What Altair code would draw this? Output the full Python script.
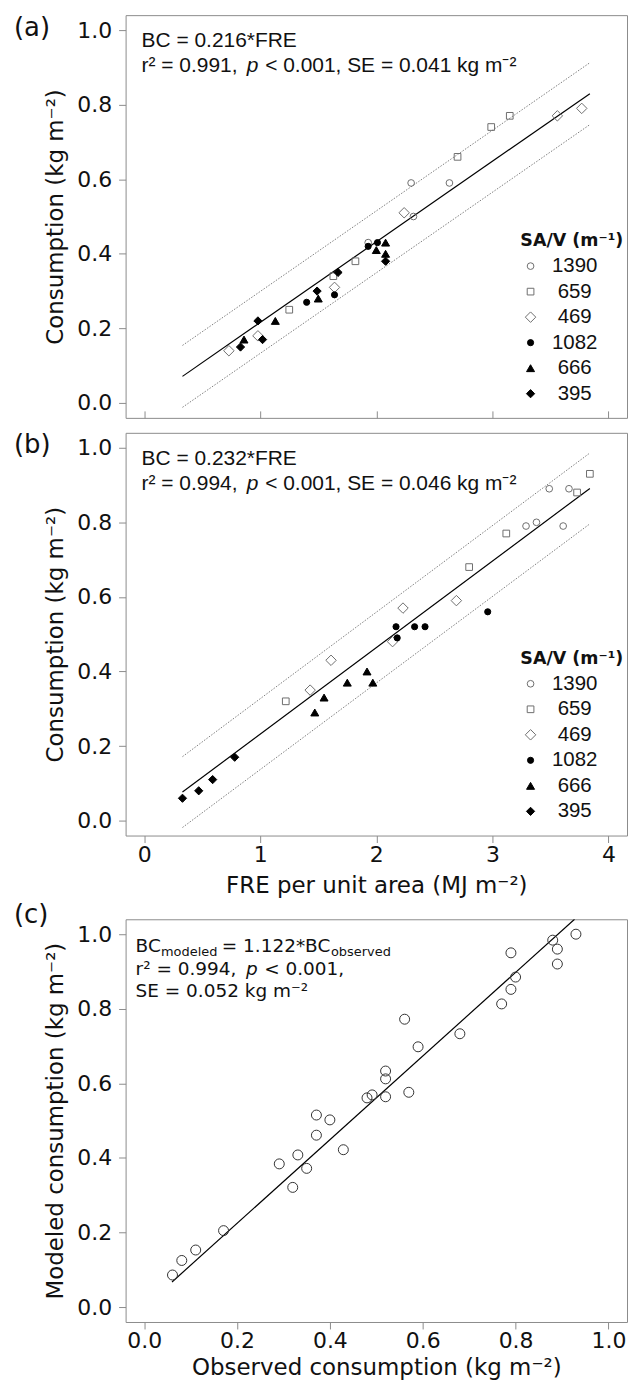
import altair as alt
import pandas as pd

# ---------------- data ----------------
SAV_ORDER = ["1390", "659", "469", "1082", "666", "395"]

# Panel (a): FRE per unit area (MJ m-2) vs consumption (kg m-2)
a_1390_x = [2.30, 2.63, 2.32, 1.93]
a_1390_y = [0.59, 0.59, 0.50, 0.43]
a_659_x = [3.15, 2.99, 2.70, 1.82, 1.63, 1.25]
a_659_y = [0.77, 0.74, 0.66, 0.38, 0.34, 0.25]
a_469_x = [3.77, 3.56, 2.24, 1.64, 0.98, 0.73]
a_469_y = [0.79, 0.77, 0.51, 0.31, 0.18, 0.14]
a_1082_x = [1.93, 2.01, 1.40, 1.64]
a_1082_y = [0.42, 0.43, 0.27, 0.29]
a_666_x = [2.08, 2.00, 2.08, 1.50, 1.13, 0.86]
a_666_y = [0.43, 0.41, 0.40, 0.28, 0.22, 0.17]
a_395_x = [2.08, 1.67, 1.49, 0.98, 1.02, 0.83]
a_395_y = [0.38, 0.35, 0.30, 0.22, 0.17, 0.15]

# Panel (b)
b_1390_x = [3.49, 3.66, 3.29, 3.38, 3.61]
b_1390_y = [0.89, 0.89, 0.79, 0.80, 0.79]
b_659_x = [3.84, 3.73, 3.12, 2.80, 1.22]
b_659_y = [0.93, 0.88, 0.77, 0.68, 0.32]
b_469_x = [2.23, 2.69, 2.14, 1.61, 1.43]
b_469_y = [0.57, 0.59, 0.48, 0.43, 0.35]
b_1082_x = [2.96, 2.17, 2.33, 2.42, 2.18]
b_1082_y = [0.56, 0.52, 0.52, 0.52, 0.49]
b_666_x = [1.92, 1.97, 1.75, 1.55, 1.47]
b_666_y = [0.40, 0.37, 0.37, 0.33, 0.29]
b_395_x = [0.78, 0.59, 0.47, 0.33]
b_395_y = [0.17, 0.11, 0.08, 0.06]

# Panel (c): observed vs modeled consumption (kg m-2)
c_observed = [0.061, 0.081, 0.111, 0.171, 0.291, 0.320, 0.331, 0.350, 0.371, 0.371,
              0.400, 0.429, 0.480, 0.491, 0.520, 0.520, 0.520, 0.561, 0.570, 0.590,
              0.680, 0.770, 0.790, 0.790, 0.800, 0.880, 0.890, 0.890, 0.930]
c_modeled = [0.086, 0.125, 0.153, 0.205, 0.384, 0.321, 0.408, 0.372, 0.515, 0.461,
             0.502, 0.422, 0.561, 0.569, 0.633, 0.612, 0.564, 0.772, 0.576, 0.698,
             0.733, 0.813, 0.852, 0.950, 0.885, 0.984, 0.960, 0.920, 1.000]

# fitted lines (through origin) and their band half-widths
slope_a, band_a, fit_range_a = 0.216, 0.083, [0.33, 3.84]
slope_b, band_b, fit_range_b = 0.232, 0.095, [0.33, 3.84]
slope_c, fit_range_c = 1.122, [0.06, 0.927]

x_ticks_fre = [0, 1, 2, 3, 4]
y_ticks = [0.0, 0.2, 0.4, 0.6, 0.8, 1.0]
x_ticks_obs = [0.0, 0.2, 0.4, 0.6, 0.8, 1.0]

# ---------------- styling ----------------
W, H = 503, 404
GREY = "#6e6e6e"
FRAME = "#8c8c8c"
TXT = "#111111"
AX_FONT = "DejaVu Sans"
ANN_FONT = "Liberation Sans"


def series_frame(prefix_x, prefix_y):
    rows = []
    for key, xs, ys in zip(SAV_ORDER, prefix_x, prefix_y):
        for xv, yv in zip(xs, ys):
            rows.append({"fre": xv, "bc": yv, "sav": key})
    return pd.DataFrame(rows)


df_a = series_frame([a_1390_x, a_659_x, a_469_x, a_1082_x, a_666_x, a_395_x],
                    [a_1390_y, a_659_y, a_469_y, a_1082_y, a_666_y, a_395_y])
df_b = series_frame([b_1390_x, b_659_x, b_469_x, b_1082_x, b_666_x, b_395_x],
                    [b_1390_y, b_659_y, b_469_y, b_1082_y, b_666_y, b_395_y])
df_c = pd.DataFrame({"obs": c_observed, "mod": c_modeled})


def fit_frame(slope, band, xr):
    rows = []
    for xv in xr:
        rows.append({"x": xv, "y": slope * xv, "k": "fit"})
        rows.append({"x": xv, "y": slope * xv + band, "k": "upper"})
        rows.append({"x": xv, "y": slope * xv - band, "k": "lower"})
    return pd.DataFrame(rows)


def text_layer(s, x, y, size=20, font=ANN_FONT, style="normal", weight="normal"):
    return alt.Chart(pd.DataFrame({"t": [s]})).mark_text(
        align="left", baseline="alphabetic", font=font, fontSize=size,
        fontStyle=style, fontWeight=weight, color=TXT
    ).encode(text="t:N", x=alt.value(x), y=alt.value(y))


y_scale = alt.Scale(domain=[-0.04, 1.04], nice=False, zero=False)
fre_scale = alt.Scale(domain=[-0.16, 4.16], nice=False, zero=False)
obs_scale = alt.Scale(domain=[-0.04, 1.04], nice=False, zero=False)

legend = alt.Legend(
    orient="none", legendX=396, legendY=218, padding=0,
    title="SA/V (m⁻¹)", titleFont=AX_FONT, titleFontWeight="bold", titleFontSize=17.5,
    titleColor=TXT, titlePadding=6,
    labelFont=ANN_FONT, labelFontSize=20.5, labelColor=TXT, labelAlign="center",
    labelOffset=34, symbolOffset=0, rowPadding=4.6, symbolStrokeWidth=1,
)

shape_scale = alt.Scale(domain=SAV_ORDER, range=["circle", "square", "diamond", "circle", "triangle-up", "diamond"])
fill_scale = alt.Scale(domain=SAV_ORDER, range=["transparent", "transparent", "transparent", "black", "black", "black"])
stroke_scale = alt.Scale(domain=SAV_ORDER, range=[GREY, GREY, GREY, "black", "black", "black"])
size_scale = alt.Scale(type="ordinal", domain=SAV_ORDER, range=[45, 45, 110, 38, 64, 68])


def fre_panel(df, slope, band, xr, eq, r2, se, label, show_x, label_y):
    if show_x:
        x_axis = alt.Axis(values=x_ticks_fre, format="d", title="FRE per unit area (MJ m⁻²)",
                          titlePadding=9, labelPadding=2)
    else:
        x_axis = alt.Axis(values=x_ticks_fre, labels=False, title=None, offset=-7)
    y_axis = alt.Axis(values=y_ticks, format=".1f", title="Consumption (kg m⁻²)", titlePadding=9)

    pts = alt.Chart(df).mark_point(filled=True, opacity=1, strokeWidth=1).encode(
        x=alt.X("fre:Q", scale=fre_scale, axis=x_axis),
        y=alt.Y("bc:Q", scale=y_scale, axis=y_axis),
        shape=alt.Shape("sav:N", scale=shape_scale, legend=legend, sort=SAV_ORDER),
        fill=alt.Fill("sav:N", scale=fill_scale, legend=legend, sort=SAV_ORDER),
        stroke=alt.Stroke("sav:N", scale=stroke_scale, legend=legend, sort=SAV_ORDER),
        size=alt.Size("sav:N", scale=size_scale, legend=legend, sort=SAV_ORDER),
    )
    fit = fit_frame(slope, band, xr)
    main = alt.Chart(fit).transform_filter(alt.datum.k == "fit").mark_line(
        color="black", strokeWidth=1.2).encode(x="x:Q", y="y:Q")
    bands = alt.Chart(fit).transform_filter(alt.datum.k != "fit").mark_line(
        color="#808080", strokeWidth=1, strokeDash=[1.5, 1.5]).encode(x="x:Q", y="y:Q", detail="k:N")

    texts = [
        text_layer(eq, 16, 32, size=21),
        text_layer(r2, 16, 57, size=21),
        text_layer("p", 121.5, 57, size=21, style="italic"),
        text_layer(se, 140, 57, size=21),
        text_layer(label, -112, label_y, size=26, font=AX_FONT),
    ]
    return alt.layer(bands, main, pts, *texts).properties(width=W, height=H)


panel_a = fre_panel(df_a, slope_a, band_a, fit_range_a, "BC = 0.216*FRE", "r² = 0.991,",
                    "< 0.001, SE = 0.041 kg m⁻²", "(a)", False, 21)
panel_b = fre_panel(df_b, slope_b, band_b, fit_range_b, "BC = 0.232*FRE", "r² = 0.994,",
                    "< 0.001, SE = 0.046 kg m⁻²", "(b)", True, 20)

# panel (c)
pts_c = alt.Chart(df_c).mark_point(shape="circle", size=100, filled=False, opacity=1,
                                   color="#333333", strokeWidth=1).encode(
    x=alt.X("obs:Q", scale=obs_scale,
            axis=alt.Axis(values=x_ticks_obs, format=".1f", title="Observed consumption (kg m⁻²)",
                          titlePadding=5, labelPadding=2)),
    y=alt.Y("mod:Q", scale=y_scale,
            axis=alt.Axis(values=y_ticks, format=".1f", title="Modeled consumption (kg m⁻²)", titlePadding=9)),
)
fit_c = pd.DataFrame({"x": fit_range_c, "y": [slope_c * v for v in fit_range_c]})
line_c = alt.Chart(fit_c).mark_line(color="black", strokeWidth=1.2, clip=True).encode(x="x:Q", y="y:Q")
texts_c = [
    text_layer("BC", 10, 32.7, size=18.5, font=AX_FONT),
    text_layer("modeled", 35.5, 37, size=13, font=AX_FONT),
    text_layer("= 1.122*BC", 96.5, 32.7, size=18.5, font=AX_FONT),
    text_layer("observed", 206, 37, size=13, font=AX_FONT),
    text_layer("r² = 0.994,", 10, 56, size=18.5, font=AX_FONT),
    text_layer("p", 120.7, 56, size=18.5, style="italic", font=AX_FONT),
    text_layer("< 0.001,", 139, 56, size=18.5, font=AX_FONT),
    text_layer("SE = 0.052 kg m⁻²", 10, 78.3, size=18.5, font=AX_FONT),
    text_layer("(c)", -112, 4, size=26, font=AX_FONT),
]
panel_c = alt.layer(line_c, pts_c, *texts_c).properties(width=W, height=H)

# invisible spacer between (b) and (c) so the gap below (b)'s axis matches
spacer = alt.Chart(pd.DataFrame({"t": [0]})).mark_point(opacity=0).encode(
    x=alt.value(0), y=alt.value(0)
).properties(width=W, height=54, view=alt.ViewBackground(stroke=None))

chart = alt.vconcat(panel_a, panel_b, spacer, panel_c, spacing=15, bounds="flush").properties(
    padding={"left": 13, "top": 12, "right": 0, "bottom": 0}
).configure_view(
    stroke=FRAME, strokeWidth=1
).configure_axis(
    grid=False, domain=False, tickColor=FRAME, tickSize=7, tickWidth=1,
    labelFont=AX_FONT, labelFontSize=22, labelColor=TXT, labelPadding=7,
    titleFont=AX_FONT, titleFontSize=23, titleFontWeight="normal", titleColor=TXT,
).resolve_scale(shape="independent", fill="independent", stroke="independent", size="independent")

chart.save("out.html", embed_options={"renderer": "svg", "actions": False})
